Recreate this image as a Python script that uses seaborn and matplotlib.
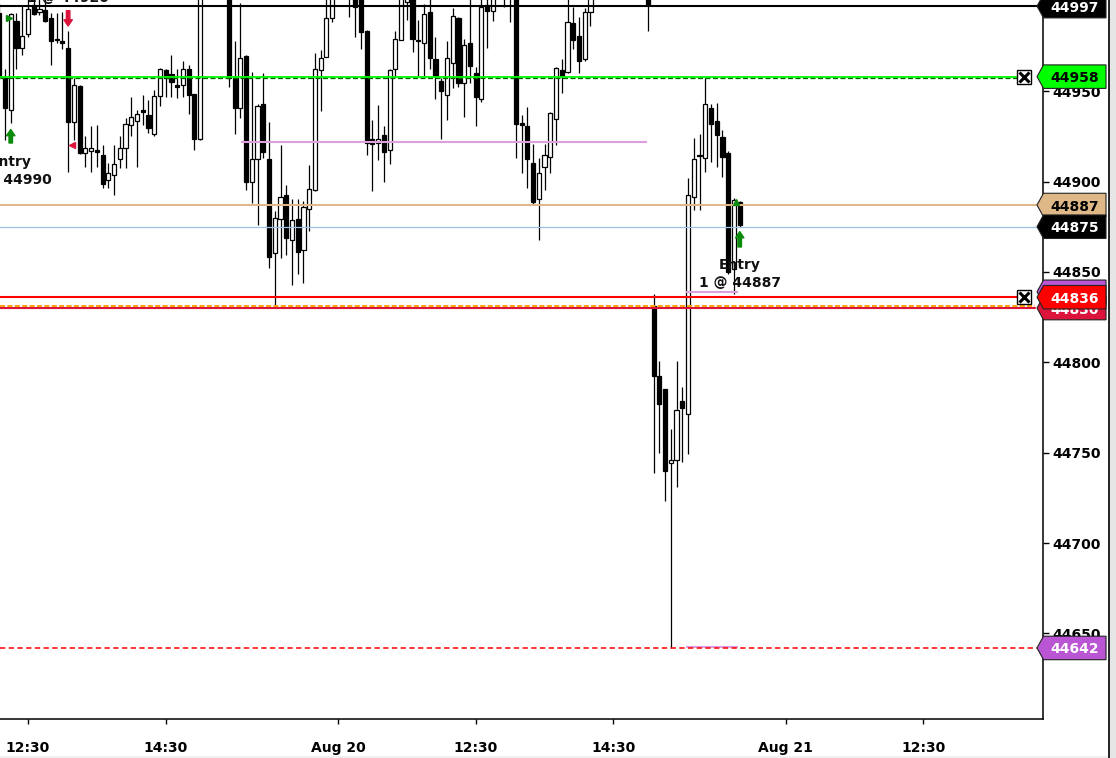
import matplotlib
matplotlib.use("Agg")
import matplotlib.pyplot as plt
import seaborn as sns
import numpy as np
from matplotlib.patches import Polygon, Rectangle
from matplotlib.lines import Line2D
from matplotlib.transforms import blended_transform_factory

# ---------------- data (5-minute bars, bar index -1 .. 128) ----------------
bar_index = list(range(-1, 129))
opens = [44993, 44957, 44939.5, 44989, 44974, 44981.5, 44997.5, 44993.5, 44995, 44990.5,
         44979, 44977.5, 44974, 44933, 44953, 44915.5, 44917, 44917.5, 44914.5, 44901,
         44903.5, 44912.5, 44918.5, 44931.5, 44933.5, 44939.5, 44937, 44926.5, 44947.5, 44961.5,
         44959.5, 44953.5, 44953.5, 44962.5, 44948.5, 44923.5, 45003, 45025, 45040, 45030,
         45015, 44957, 44940.5, 44969.5, 44899.5, 44912.5, 44943, 44912.5, 44860.5, 44879.5,
         44892.5, 44867.5, 44879.5, 44862, 44885, 44895.5, 44961.5, 44969, 44990.5, 45006,
         45022, 45012, 45008, 45005, 44983, 44923.5, 44921.5, 44925.5, 44917.5, 44962.5,
         44978.5, 44999.5, 45006, 44977.5, 44976.5, 44993.5, 44967.5, 44955.5, 44948, 44965.5,
         44990.5, 44954.5, 44976.5, 44960, 44945.5, 44997.5, 44994.5, 45003, 45018, 45010,
         45012, 44932.5, 44930.5, 44910.5, 44890.5, 44908, 44913.5, 44934.5, 44961.5, 44960.5,
         44987.5, 44980.5, 44967.5, 44993.5, 45004, 45015, 45026, 45018, 45022, 45035,
         45024, 45014, 45020, 45004, 44831, 44792.5, 44785.5, 44744.5, 44746, 44778.5,
         44771.5, 44891.5, 44914, 44913, 44940.5, 44933.5, 44924.5, 44915.5, 44851.5, 44888.5]
highs = [44999, 44962, 44993, 44993, 44997, 45002, 45003, 45001, 45001, 44993,
         44993, 44994, 44983, 44957, 44953.5, 44925, 44930.5, 44931.5, 44920, 44910,
         44920, 44925, 44935, 44947, 44939.5, 44948, 44945, 44950.5, 44963, 44962.5,
         44970, 44962.5, 44966.5, 44964.5, 44948.5, 45006, 45030, 45045, 45050, 45040,
         45020, 44977.5, 44998.5, 44970, 44960.5, 44943, 44960, 44933, 44883.5, 44920,
         44898, 44890.5, 44890.5, 44889, 44909, 44971, 44973, 45003, 45012, 45030,
         45035, 45020, 45014, 45010, 44984, 44934, 44942.5, 44930.5, 44962.5, 44983,
         45008, 45010, 45010, 44989.5, 44998, 45001, 44980, 44957, 44977.5, 44996,
         44991, 44979, 45003, 44963.5, 45005, 45004, 45008, 45025, 45022, 45020,
         45015, 44937, 44941, 44921, 44913, 44921, 44938.5, 44963.5, 44968, 45003,
         44996.5, 44991, 44996, 45008, 45020, 45030, 45035, 45028, 45040, 45042,
         45030, 45025, 45026, 45008, 44838, 44800.5, 44785.5, 44763, 44800.5, 44786.5,
         44902, 44924, 44926.5, 44957, 44943, 44943.5, 44928.5, 44917, 44891, 44889]
lows = [44956, 44923, 44932.5, 44962, 44970, 44980, 44992, 44992, 44988.5, 44964.5,
        44976.5, 44973.5, 44905.5, 44923, 44915, 44908, 44905.5, 44908, 44896.5, 44896.5,
        44892.5, 44907.5, 44907.5, 44925, 44908, 44931.5, 44927, 44925, 44941.5, 44947,
        44947, 44946, 44947, 44937.5, 44917.5, 44923, 45001.5, 45015, 45025, 45012,
        44952.5, 44926.5, 44935, 44895.5, 44888, 44876, 44913, 44852, 44831, 44857.5,
        44859.5, 44843, 44849, 44844, 44872.5, 44894.5, 44939, 44969, 44988.5, 45002,
        45008, 44991, 44980, 44973.5, 44914.5, 44894.5, 44912, 44899.5, 44909.5, 44958,
        44978, 44989.5, 44971.5, 44958.5, 44958.5, 44962.5, 44945.5, 44923.5, 44934, 44951.5,
        44952.5, 44935.5, 44954.5, 44930.5, 44944, 44974, 44989, 45002, 44996.5, 44988.5,
        44913, 44904.5, 44896.5, 44887.5, 44867.5, 44895.5, 44904.5, 44920, 44949, 44960,
        44973.5, 44960, 44966.5, 44986, 45002, 45010, 45012, 45008, 45016, 45020,
        45010, 45005, 45004, 44983.5, 44738.5, 44750, 44723.5, 44642, 44731, 44745,
        44749.5, 44884, 44884, 44905.5, 44911, 44908, 44902.5, 44849, 44838, 44875]
closes = [44958, 44940.5, 44992.5, 44974, 44980.5, 44995.5, 44992.5, 44995.5, 44989, 44977.5,
          44978.5, 44976.5, 44933, 44953.5, 44915.5, 44918.5, 44918.5, 44916.5, 44898.5, 44904.5,
          44909.5, 44918.5, 44932, 44935.5, 44937.5, 44938.5, 44929.5, 44947.5, 44962.5, 44957.5,
          44955, 44952.5, 44962.5, 44948, 44923.5, 45003, 45025, 45040, 45030, 45015,
          44957, 44940.5, 44968.5, 44899.5, 44912.5, 44942, 44916.5, 44858.5, 44880, 44891.5,
          44868.5, 44878.5, 44861, 44886, 44896, 44962.5, 44968.5, 44990.5, 45006, 45022,
          45012, 45008, 44996.5, 44982.5, 44921.5, 44921, 44923.5, 44916.5, 44961.5, 44979,
          45003, 45004, 44979, 44978.5, 44992.5, 44968.5, 44958.5, 44950, 44968.5, 44991.5,
          44954.5, 44975.5, 44964, 44946.5, 44996.5, 44994.5, 45003, 45018, 45010, 45012,
          44932, 44931.5, 44912.5, 44888.5, 44904.5, 44914.5, 44938, 44963, 44958.5, 44988.5,
          44978.5, 44966.5, 44993.5, 45004, 45015, 45026, 45018, 45022, 45035, 45024,
          45014, 45020, 45008, 44997.5, 44792.5, 44777, 44740, 44746, 44773.5, 44774.5,
          44892.5, 44912.5, 44914.5, 44943, 44932, 44925.5, 44913.5, 44850, 44889.5, 44876]

tick_pos = [4, 28, 58, 82, 106, 136, 160]
tick_labels = ["12:30", "14:30", "Aug 20", "12:30", "14:30", "Aug 21", "12:30"]
price_ticks = [44650, 44700, 44750, 44800, 44850, 44900, 44950]

# price tags on the right axis (drawn in this order, later ones on top)
tag_values = [44839, 44830, 44836, 44997, 44958, 44887, 44875, 44642]
tag_fill = ["#ba55d3", "#dc143c", "#ff0000", "#000000", "#00ff00", "#deb887", "#000000", "#ba55d3"]
tag_textcolor = ["white", "white", "white", "white", "black", "black", "white", "white"]

# ---------------- figure ----------------
sns.set_theme(style="white")
plt.rcParams["font.family"] = ["DejaVu Sans"]
plt.rcParams["font.weight"] = "bold"
FS = 10

W, H = 1116, 758
fig = plt.figure(figsize=(W / 100, H / 100), dpi=100)
fig.patch.set_facecolor("white")
ax = fig.add_axes([0, 39 / H, 1043 / W, 719 / H])
ax.set_facecolor("white")

x = np.array(bar_index, dtype=float)
o = np.array(opens); h = np.array(highs); l = np.array(lows); c = np.array(closes)
bull = c >= o

# wicks
ax.vlines(x, l, h, color="black", lw=0.9, zorder=2)
# bodies
bottom = np.minimum(o, c)
height = np.maximum(np.abs(c - o), 0.35)
ax.bar(x[bull], height[bull], bottom=bottom[bull], width=0.72, color="white",
       edgecolor="black", linewidth=0.9, zorder=3)
ax.bar(x[~bull], height[~bull], bottom=bottom[~bull], width=0.72, color="black",
       edgecolor="black", linewidth=0.9, zorder=3)

ax.set_xlim(-0.871, 180.84)
ax.set_ylim(44602.7, 45000.4)

# ---------------- level lines ----------------
ax.axhline(44997, xmin=0, xmax=0.994, color="black", lw=1.5, zorder=4)
ax.axhline(44958, xmin=0, xmax=0.975, color="#00ff00", lw=1.3, zorder=4)
ax.axhline(44957.1, xmin=0, xmax=0.975, color="#006400", lw=0.9, ls=(0, (4, 2)), zorder=4)
ax.hlines(44922, 41.2, 111.8, color="#dda0dd", lw=1.5, zorder=4)
ax.axhline(44887, xmin=0, xmax=0.994, color="#deb887", lw=1.5, zorder=4)
ax.axhline(44875, xmin=0, xmax=0.994, color="#9cc3e6", lw=0.9, zorder=4)
ax.axhline(44836, xmin=0, xmax=0.975, color="#ff0000", lw=1.5, zorder=4)
ax.axhline(44831.3, xmin=0, xmax=0.992, color="#ffa500", lw=1.4, ls=(0, (2.6, 1.2)), zorder=4)
ax.axhline(44830, xmin=0, xmax=0.992, color="#dc143c", lw=1.5, zorder=4)
ax.hlines([44839, 44642.6], 118.7, 127.7, color="#dda0dd", lw=1.5, zorder=4)
ax.axhline(44642, xmin=0, xmax=0.994, color="#ff0000", lw=1.1, ls=(0, (3.5, 2.2)), zorder=5)

# ---------------- markers & labels ----------------
def arrow(k, tail, tip, color):
    ax.annotate("", xy=(k, tip), xytext=(k, tail),
                arrowprops=dict(arrowstyle="simple,head_length=0.45,head_width=0.6,tail_width=0.25",
                                color=color, shrinkA=0, shrinkB=0, mutation_scale=10),
                annotation_clip=False, zorder=6)

arrow(11, 44994.5, 44986, "#dc143c")
arrow(1, 44921.3, 44928.8, "#0a8a0a")
arrow(128, 44863.8, 44872.3, "#0a8a0a")
ax.plot([0.75], [44990.3], marker=">", ms=5, color="#0a8a0a", ls="none", zorder=6, clip_on=False)
ax.plot([11.6], [44920], marker="<", ms=5, color="#dc143c", ls="none", zorder=6)
ax.plot([127.3], [44888.5], marker="^", ms=4, color="#0a8a0a", ls="none", zorder=6)

ax.text(1, 44905.8, "Entry\n1 @ 44990", ha="center", va="center", fontsize=FS,
        fontweight="bold", color="#111111", linespacing=1.4, zorder=7)
ax.text(128, 44848.8, "Entry\n1 @ 44887", ha="center", va="center", fontsize=FS,
        fontweight="bold", color="#111111", linespacing=1.4, zorder=7)
ax.text(11, 44999.2, "1 @ 44920", ha="center", va="baseline", fontsize=FS,
        fontweight="bold", color="#111111", zorder=7, clip_on=False)

# ---------------- axes styling ----------------
sns.despine(ax=ax, left=True, top=True, right=False, bottom=False)
for s in ("right", "bottom"):
    ax.spines[s].set_color("black")
    ax.spines[s].set_linewidth(1.1)
ax.yaxis.tick_right()
ax.set_yticks(price_ticks)
ax.set_yticklabels([str(p) for p in price_ticks])
ax.set_xticks(tick_pos)
ax.set_xticklabels(tick_labels)
ax.tick_params(axis="y", which="both", right=True, left=False, length=4, width=1,
               pad=3, labelsize=FS, colors="black")
ax.tick_params(axis="x", which="both", bottom=True, length=3.5, width=1,
               pad=12, labelsize=FS, colors="black")
for lab in ax.get_xticklabels() + ax.get_yticklabels():
    lab.set_fontweight("bold")
ax.grid(False)

# ---------------- price tags ----------------
bt = blended_transform_factory(fig.transFigure, ax.transData)
hh = 6.5
for i, (v, fc, tc) in enumerate(zip(tag_values, tag_fill, tag_textcolor)):
    pts = [(1037 / W, v), (1043.5 / W, v + hh), (1106 / W, v + hh),
           (1106 / W, v - hh), (1043.5 / W, v - hh)]
    poly = Polygon(pts, closed=True, facecolor=fc, edgecolor="#222222", lw=0.8,
                   transform=bt, clip_on=False, zorder=10 + 2 * i)
    ax.add_patch(poly)
    ax.text(1074.5 / W, v, str(v), transform=bt, ha="center", va="center_baseline",
            fontsize=FS, fontweight="bold", color=tc, clip_on=False, zorder=11 + 2 * i)

# close boxes
for v in (44958, 44836):
    ax.plot([1024 / W], [v], transform=bt, marker="s", ms=10.5, mfc="white", mec="black",
            mew=1.0, ls="none", clip_on=False, zorder=40)
    ax.plot([1024 / W], [v], transform=bt, marker="x", ms=6.5, mec="black",
            mew=2.2, ls="none", clip_on=False, zorder=41)

# right scrollbar strip
fig.patches.append(Rectangle((1108.5 / W, 0), 7.5 / W, 1, transform=fig.transFigure,
                             facecolor="#e6e6e6", edgecolor="none", zorder=0))
fig.lines.append(Line2D([1108.5 / W, 1108.5 / W], [0, 1], transform=fig.transFigure,
                        color="black", lw=1.2))
fig.patches.append(Rectangle((0, 0), 1108 / W, 2 / H, transform=fig.transFigure,
                             facecolor="#f0f0f0", edgecolor="none", zorder=0))

fig.savefig("out.png", dpi=100)
